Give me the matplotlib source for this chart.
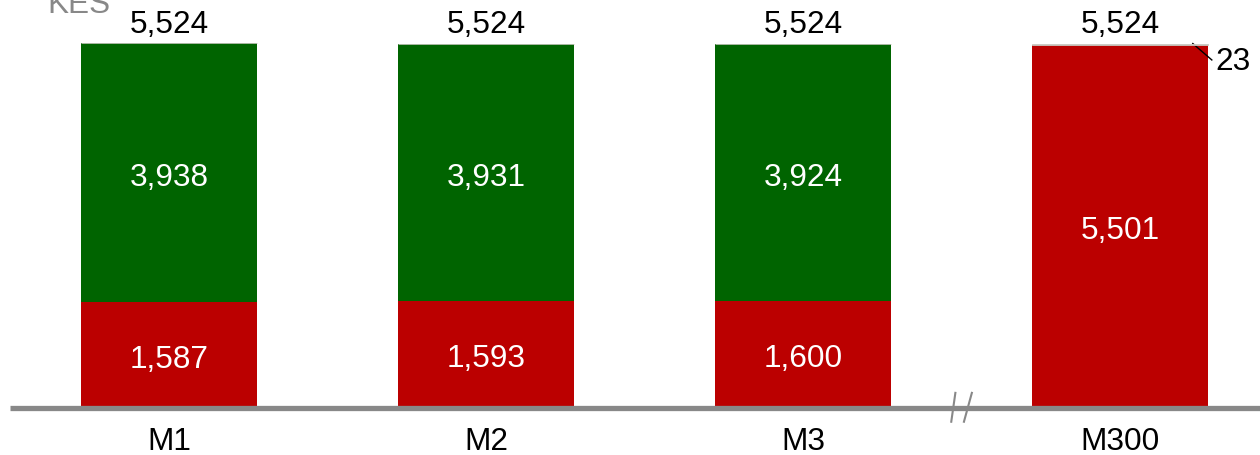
import matplotlib.pyplot as plt

plt.rcParams['font.family'] = ['Liberation Sans', 'DejaVu Sans']

categories = ['M1', 'M2', 'M3', 'M300']
red_vals = [1587, 1593, 1600, 5501]
green_vals = [3938, 3931, 3924, 0]
grey_vals = [0, 0, 0, 23]
totals = [5524, 5524, 5524, 5524]

red = '#bb0000'
green = '#006400'
light = '#c8c8c0'
axis_grey = '#888888'

fig = plt.figure(figsize=(12.6, 4.56), dpi=100)
ax = fig.add_axes([0, 0, 1, 1])
ax.set_xlim(-0.533, 3.442)
ax.set_ylim(-747, 6203)
ax.axis('off')

x = list(range(len(categories)))
w = 0.555
fs = 22.7
drop = 70  # nudge inner labels down a little

bottoms_g = red_vals
bottoms_l = [r + g for r, g in zip(red_vals, green_vals)]
ax.bar(x, red_vals, width=w, color=red, zorder=2)
ax.bar(x, green_vals, width=w, bottom=bottoms_g, color=green, zorder=2)
ax.bar(x, grey_vals, width=w, bottom=bottoms_l, color=light, edgecolor=light,
       linewidth=0.6, zorder=3)

for i in x:
    ax.text(i, red_vals[i] / 2 - drop, f'{red_vals[i]:,}', color='white', fontsize=fs,
            ha='center', va='center', zorder=3)
    if green_vals[i]:
        ax.text(i, red_vals[i] + green_vals[i] / 2 - drop, f'{green_vals[i]:,}', color='white',
                fontsize=fs, ha='center', va='center', zorder=3)
    ax.text(i, totals[i] + 180, f'{totals[i]:,}', color='black', fontsize=fs,
            ha='center', va='baseline')
    ax.text(i, -310, categories[i], color='black', fontsize=fs, ha='center', va='top')

# small segment on the last bar gets a leader line
i = 3
ax.plot([i + 0.23, i + 0.29], [totals[i], totals[i] - 250], color='black', lw=1)
ax.text(i + 0.3, totals[i] - 270, f'{grey_vals[i]:,}', fontsize=fs, ha='left', va='center')

# baseline with axis break
ax.plot([-0.50, 3.45], [-38, -38], color=axis_grey, lw=3.8, zorder=4, solid_capstyle='butt')
ax.plot([2.481, 2.468], [200, -240], color=axis_grey, lw=1.5, zorder=5)
ax.plot([2.533, 2.508], [200, -240], color=axis_grey, lw=1.5, zorder=5)

ax.text(-0.385, 6203 + 150, 'KES', color=axis_grey, fontsize=fs, ha='left', va='top',
        clip_on=False)

fig.savefig('out.png', dpi=100)
